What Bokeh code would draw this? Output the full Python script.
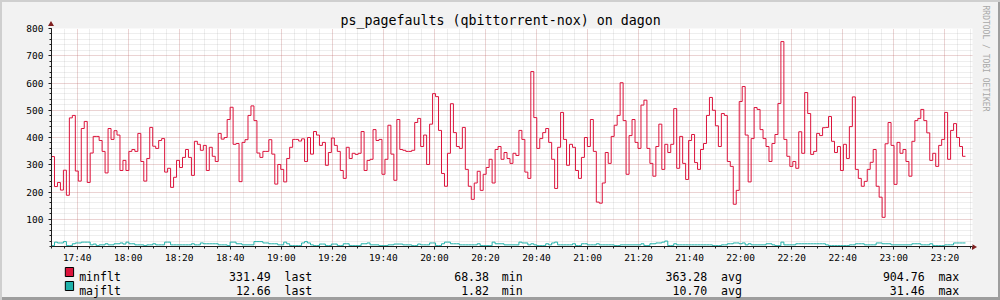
from datetime import datetime, timezone
from bokeh.plotting import figure
from bokeh.layouts import column
from bokeh.models import (Range1d, FixedTicker, DatetimeTickFormatter, Title, ColumnDataSource)
from bokeh.core.properties import value
from bokeh.embed import file_html
from bokeh.resources import INLINE

# ---------------- data ----------------
title_text = "ps_pagefaults (qbittorrent-nox) on dagon"
watermark_text = "RRDTOOL / TOBI OETIKER"
series_names = ["minflt", "majflt"]
series_colors = ["#DC143C", "#20B2AA"]
legend_last = ["331.49", "12.66"]
legend_min = ["68.38", "1.82"]
legend_avg = ["363.28", "10.70"]
legend_max = ["904.76", "31.46"]
stat_words = ["last", "min", "avg", "max"]
y_tick_values = [100, 200, 300, 400, 500, 600, 700, 800]

start_time = datetime(2024, 1, 1, 17, 29, 56, tzinfo=timezone.utc)
step_seconds = 70
view_start = datetime(2024, 1, 1, 17, 29, 56, tzinfo=timezone.utc)
view_end = datetime(2024, 1, 1, 23, 30, 51, tzinfo=timezone.utc)
first_major = datetime(2024, 1, 1, 17, 40, tzinfo=timezone.utc)
first_minor = datetime(2024, 1, 1, 17, 30, tzinfo=timezone.utc)

minflt = [
    330, 220, 235, 207, 280, 188, 472, 481, 277, 240,
    433, 459, 235, 343, 404, 404, 389, 349, 270, 433,
    393, 425, 409, 279, 316, 279, 349, 356, 349, 415,
    312, 240, 323, 437, 368, 360, 389, 396, 273, 287,
    217, 254, 316, 290, 327, 356, 327, 261, 386, 375,
    353, 371, 279, 364, 331, 312, 415, 394, 400, 466,
    511, 375, 378, 238, 382, 392, 481, 516, 462, 343,
    327, 349, 349, 392, 339, 229, 301, 283,
    237, 323, 364, 393, 393, 387, 395, 312, 400, 339,
    422, 409, 371, 382, 298, 345, 398, 371, 349, 279,
    250, 364, 323, 342, 338, 342, 422, 279, 316, 320,
    429, 389, 393, 265, 320, 445, 339, 243, 466, 356,
    353, 349, 349, 353, 455, 470, 367, 409, 301, 449,
    561, 550, 426, 268, 221, 342, 524, 418, 367, 360,
    437, 283, 221, 173, 233, 276, 206, 265, 290, 320,
    233, 356, 367, 320, 345, 323, 305,
    342, 334, 426, 393, 273, 250, 642, 473, 360, 396,
    418, 433, 382, 320, 213, 364, 492, 393, 298, 375,
    364, 279, 250, 327, 400, 367, 466, 349, 163, 159,
    233, 345, 305, 404, 445, 481, 601, 462, 265, 407,
    466, 382, 360, 519, 537, 360, 305, 258, 367, 449,
    283, 375, 345, 375, 506, 287, 404, 305, 246, 389,
    411, 308, 283, 356, 378, 481, 547, 500, 443, 367,
    488, 481, 312, 294, 155, 206, 532, 587,
    409, 237, 396, 510, 503, 429, 396, 367, 312, 378,
    411, 525, 752, 393, 331, 294, 312, 287, 421, 342,
    565, 488, 338, 349, 415, 407, 436, 437, 477, 386,
    345, 367, 279, 375, 323, 440, 549, 283, 250, 221,
    239, 283, 309, 356, 221, 181, 107, 377, 455, 371,
    228, 382, 342, 356, 312, 258, 386, 462, 470, 503,
    462, 417, 316, 342, 294, 371, 393, 492, 320, 426,
    451, 400, 367, 331,
]

majflt = [
    3, 16, 13, 13, 18, 3, 3, 10, 13, 13,
    16, 16, 16, 6, 9, 3, 6, 6, 10, 6,
    6, 10, 10, 13, 9, 16, 10, 10, 6, 6,
    6, 3, 6, 6, 10, 6, 6, 6, 16, 16,
    6, 6, 6, 6, 6, 6, 6, 10, 6, 6,
    13, 10, 10, 10, 10, 10, 6, 6, 6, 3,
    16, 16, 10, 10, 6, 6, 6, 6, 18, 18,
    18, 13, 13, 10, 10, 10, 6, 6,
    16, 10, 3, 3, 3, 3, 13, 18, 13, 6,
    3, 3, 9, 9, 3, 3, 9, 9, 3, 3,
    10, 10, 3, 3, 3, 3, 10, 10, 13, 6,
    6, 6, 3, 3, 3, 6, 6, 9, 9, 9,
    6, 6, 6, 3, 3, 9, 6, 6, 6, 13,
    13, 3, 3, 10, 16, 16, 10, 10, 10, 6,
    6, 6, 6, 6, 6, 10, 3, 3, 3, 3,
    16, 10, 10, 10, 6, 6, 6,
    6, 6, 16, 13, 13, 6, 10, 6, 3, 3,
    3, 10, 6, 13, 16, 6, 6, 6, 6, 6,
    10, 3, 3, 10, 10, 6, 6, 6, 10, 6,
    6, 6, 6, 6, 3, 3, 6, 6, 6, 6,
    6, 6, 6, 10, 3, 3, 10, 10, 13, 13,
    16, 20, 3, 3, 10, 6, 6, 6, 6, 6,
    6, 6, 6, 6, 6, 6, 6, 3, 3, 3,
    6, 6, 10, 10, 13, 13, 10, 13,
    6, 10, 6, 6, 6, 6, 6, 10, 10, 6,
    3, 3, 16, 6, 6, 6, 6, 10, 10, 10,
    10, 10, 10, 10, 10, 10, 10, 6, 3, 3,
    3, 3, 3, 3, 3, 6, 6, 10, 10, 10,
    6, 6, 6, 6, 13, 13, 10, 10, 10, 6,
    6, 6, 6, 6, 6, 6, 10, 10, 10, 6,
    6, 6, 10, 3, 3, 3, 3, 6, 6, 6,
    13, 13, 13, 13,
]

# ---------------- helpers ----------------
def ms(dt):
    return dt.timestamp() * 1000.0

t0 = ms(start_time)
step_ms = step_seconds * 1000.0
n = len(minflt)
xs = [t0 + i * step_ms for i in range(n + 1)]
src = ColumnDataSource(dict(
    x=xs,
    minflt=minflt + [minflt[-1]],
    majflt=majflt + [majflt[-1]],
))

W = 1000
H_MAIN = 265
H_LEG = 300 - H_MAIN
FL, FR, FT, FB = 51, 972, 28, 247  # frame edges on the canvas
FONT = "DejaVu Sans Mono"

p = figure(width=W, height=H_MAIN, output_backend="svg", toolbar_location=None,
           x_axis_type="datetime",
           x_range=Range1d(ms(view_start), ms(view_end)),
           y_range=Range1d(0, 800),
           min_border_left=FL, min_border_right=W - FR,
           min_border_top=FT, min_border_bottom=H_MAIN - FB,
           background_fill_color="white",
           border_fill_color=None,
           outline_line_color=None)

# ticks
major_ticks = [ms(first_major) + k * 20 * 60000 for k in range(18)]
minor_ticks = [ms(first_minor) + k * 5 * 60000 for k in range(73)]
p.xaxis.ticker = FixedTicker(ticks=major_ticks, minor_ticks=minor_ticks)
p.xaxis.formatter = DatetimeTickFormatter(minsec="%H:%M", minutes="%H:%M", hourmin="%H:%M",
                                          hours="%H:%M", days="%H:%M")
p.yaxis.ticker = FixedTicker(ticks=y_tick_values, minor_ticks=list(range(0, 801, 20)))

for ax in (p.xaxis[0], p.yaxis[0]):
    ax.axis_line_color = "#1F1F1F"
    ax.major_tick_line_color = "#1F1F1F"
    ax.minor_tick_line_color = "#1F1F1F"
    ax.major_tick_in = 0
    ax.major_tick_out = 3
    ax.minor_tick_in = 0
    ax.minor_tick_out = 2
    ax.major_label_text_font = FONT
    ax.major_label_text_font_size = "9.5px"
    ax.major_label_text_color = "#000000"
p.yaxis.major_label_standoff = 5
p.xaxis.major_label_standoff = 2

for g in (p.xgrid[0], p.ygrid[0]):
    g.grid_line_color = "#DE4F4F"
    g.grid_line_alpha = 0.35
    g.grid_line_dash = "1 1"
    g.grid_line_width = 1
    g.minor_grid_line_color = "#8F8F8F"
    g.minor_grid_line_alpha = 0.3
    g.minor_grid_line_dash = "1 1"
    g.minor_grid_line_width = 1

p.step("x", "minflt", source=src, mode="after", line_color=series_colors[0], line_width=1)
p.step("x", "majflt", source=src, mode="after", line_color=series_colors[1], line_width=1)

# ---------------- title & watermark ----------------
p.title = Title(text=title_text, align="left", offset=289, text_font=FONT,
                text_font_size="13.3px", text_font_style="normal", text_color="#000000",
                vertical_align="bottom", standoff=2)
p.add_layout(Title(text=watermark_text, align="left", offset=-23, text_font=FONT,
                   text_font_size="8px", text_font_style="normal", text_color="#A8A8A8",
                   standoff=17), "right")

# ---------------- legend strip (canvas pixel coordinates) ----------------
q = figure(width=W, height=H_LEG, output_backend="svg", toolbar_location=None, title=None,
           x_range=Range1d(0, W), y_range=Range1d(300, H_MAIN),
           x_axis_location=None, y_axis_location=None,
           min_border=0, background_fill_color=None, border_fill_color=None,
           outline_line_color=None)
q.grid.visible = False

row_base = [276, 290]
box_left, box_right = 15, 24
name_x = 30
value_right = [238, 475, 712, 948]
word_left = [253, 489, 727, 963]
stats = [legend_last, legend_min, legend_avg, legend_max]

q.quad(left=[box_left, box_left], right=[box_right, box_right],
       top=[b - 9 for b in row_base], bottom=row_base,
       fill_color=series_colors, line_color="black", line_width=1)

txt_x, txt_y, txt_s, txt_a = [], [], [], []
for i in range(2):
    txt_x.append(name_x); txt_y.append(row_base[i]); txt_s.append(series_names[i]); txt_a.append("left")
    for k in range(4):
        txt_x.append(value_right[k]); txt_y.append(row_base[i]); txt_s.append(stats[k][i]); txt_a.append("right")
        txt_x.append(word_left[k]); txt_y.append(row_base[i]); txt_s.append(stat_words[k]); txt_a.append("left")
tsrc = ColumnDataSource(dict(x=txt_x, y=txt_y, text=txt_s, align=txt_a))
q.text("x", "y", text="text", source=tsrc, text_align="align", text_baseline="alphabetic",
       text_font=value(FONT), text_font_size="11.55px", text_color="#000000")

# axis arrows (rrdtool style) and shaded frame, painted behind the transparent borders
arrows_svg = ("data:image/svg+xml;utf8,<svg xmlns='http://www.w3.org/2000/svg' width='1000' height='300'>"
              "<polygon points='48,26 54,26 51,21' fill='%23802020'/>"
              "<polygon points='972,244 972,250 977,247' fill='%23802020'/></svg>")
layout = column(p, q, spacing=0)
layout.styles = {
    "background-color": "#F2F2F2",
    "background-image": 'url("' + arrows_svg + '")',
    "background-repeat": "no-repeat",
    "box-shadow": "inset 2px 2px 0 #CFCFCF, inset -2px -3px 0 #9E9E9E",
}

open("out.html", "w").write(file_html(layout, INLINE))
